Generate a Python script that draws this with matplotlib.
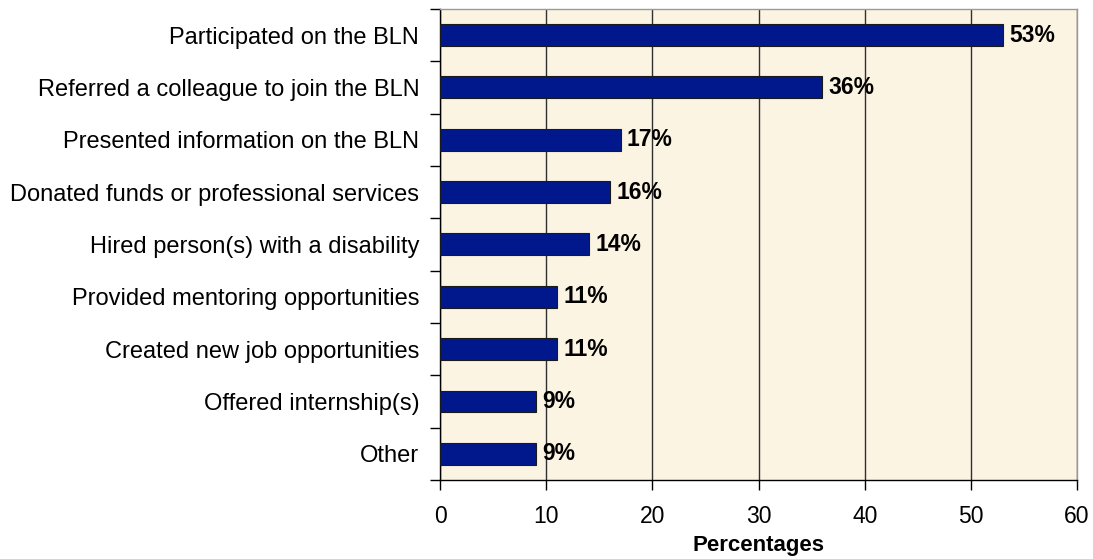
import numpy as np
import matplotlib.pyplot as plt

plt.rcParams['font.family'] = ['Liberation Sans', 'DejaVu Sans']

# survey answers, top to bottom
activities = ['Participated on the BLN',
              'Referred a colleague to join the BLN',
              'Presented information on the BLN',
              'Donated funds or professional services',
              'Hired person(s) with a disability',
              'Provided mentoring opportunities',
              'Created new job opportunities',
              'Offered internship(s)',
              'Other']
percents = [53, 36, 17, 16, 14, 11, 11, 9, 9]
xticks = [0, 10, 20, 30, 40, 50, 60]


def draw():
    fig = plt.figure(figsize=(10.93, 5.59), dpi=100)
    ax = fig.add_axes([0.4026, 0.1413, 0.5828, 0.8427])
    ax.set_facecolor('#FCF4E2')

    y = np.arange(len(activities))
    ax.barh(y, percents, height=0.42, color='#00188C', edgecolor='#1a1a1a',
            linewidth=0.8, zorder=3)
    for yi, v in zip(y, percents):
        ax.text(v + 0.6, yi, '%d%%' % v, va='center', ha='left',
                fontsize=16.5, fontweight='bold', color='black', zorder=4)

    ax.set_xlim(0, 60)
    ax.set_ylim(len(activities) - 0.5, -0.5)
    ax.set_xticks(xticks)
    ax.tick_params(axis='x', labelsize=16.5, length=7, width=1, pad=11, color='black')
    ax.xaxis.grid(True, color='#303030', linewidth=1, zorder=1)

    ax.set_yticks(y)
    ax.set_yticklabels(activities)
    ax.set_yticks(np.arange(len(activities) + 1) - 0.5, minor=True)
    ax.tick_params(axis='y', which='major', length=0, labelsize=17, pad=15)
    ax.tick_params(axis='y', which='minor', length=7, width=1, color='black')

    for side in ('left', 'bottom'):
        ax.spines[side].set_color('black')
        ax.spines[side].set_linewidth(1)
    for side in ('top', 'right'):
        ax.spines[side].set_color('#9a9a9a')
        ax.spines[side].set_linewidth(1)

    ax.set_xlabel('Percentages', fontsize=16, fontweight='bold', labelpad=5)
    fig.savefig('out.png', dpi=100)


draw()
